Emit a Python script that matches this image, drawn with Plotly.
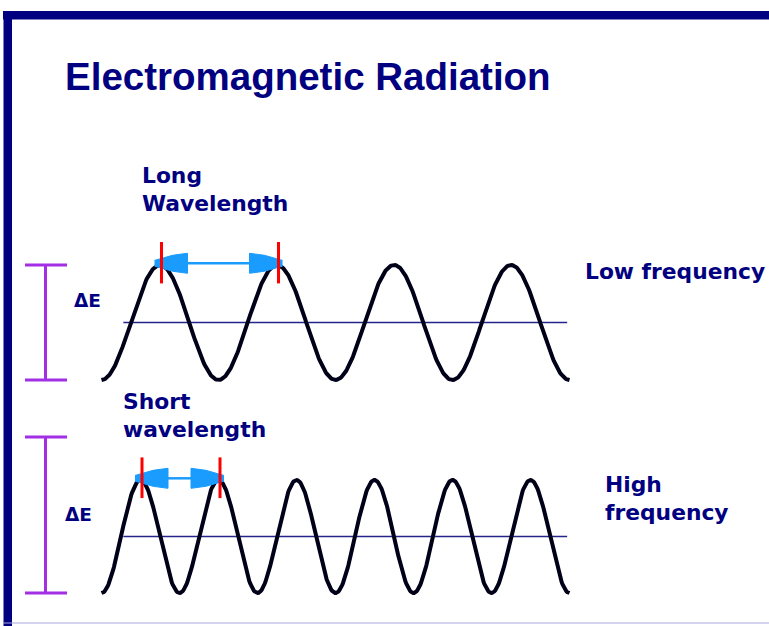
import numpy as np
import plotly.graph_objects as go

# ---------------- data ----------------
title_text = "Electromagnetic Radiation"
wave_labels = ["Long<br>Wavelength", "Short<br>wavelength"]
freq_labels = ["Low frequency", "High<br>frequency"]
delta_e_label = "ΔE"
wavelengths = [1.5, 1.0]        # relative wavelength of each wave
cycles = [4, 6]                 # number of full cycles drawn
amplitudes = [1.0, 1.0]
delta_e_top = [1.0, 1.76]       # top of the ΔE bar (wave amplitude units)
delta_e_bottom = [-1.0, -1.0]
axis_start = [0.28, 0.28]       # extent of the horizontal zero line
axis_end = [5.97, 5.97]

# ---------------- layout constants (pixels) ----------------
W, H = 769, 626
X0_PX, X_SCALE = 101.5, 78.0          # px of x=0, px per unit
PANEL_CENTER_PX = [322.5, 536.5]
PANEL_SCALE_PX = [57.5, 56.5]

NAVY = "#000080"
WAVE = "#000018"
PURPLE = "#a22ee6"
CYAN = "#1a9cff"
RED = "#ff0000"


def px2paper(x, y):
    return x / W, 1 - y / H


fig = go.Figure()
yaxes = ["y", "y2"]

for i in range(2):
    ya = yaxes[i]
    lam = wavelengths[i]
    amp = amplitudes[i]
    s = PANEL_SCALE_PX[i]
    # zero line
    fig.add_trace(go.Scatter(x=[axis_start[i], axis_end[i]], y=[0, 0], yaxis=ya,
                             mode="lines", line=dict(color="#24248a", width=1.5),
                             hoverinfo="skip", showlegend=False))
    # wave
    xs = np.linspace(0, lam * cycles[i], 600)
    ys = -amp * np.cos(2 * np.pi * xs / lam)
    fig.add_trace(go.Scatter(x=xs, y=ys, yaxis=ya, mode="lines",
                             line=dict(color=WAVE, width=4),
                             hoverinfo="skip", showlegend=False))
    # delta E bar
    bx = (45.5 - X0_PX) / X_SCALE
    c0, c1 = (25 - X0_PX) / X_SCALE, (67 - X0_PX) / X_SCALE
    top, bot = delta_e_top[i], delta_e_bottom[i]
    fig.add_trace(go.Scatter(
        x=[bx, bx, None, c0, c1, None, c0, c1],
        y=[bot, top, None, top, top, None, bot, bot], yaxis=ya, mode="lines",
        line=dict(color=PURPLE, width=3), hoverinfo="skip", showlegend=False))
    # wavelength arrow between first two crests
    p1, p2 = lam / 2, 3 * lam / 2
    ext = 5.5 / X_SCALE
    hl = 33 / X_SCALE
    hh = 10 / s
    yarr = 1.03
    t1, t2 = p1 - ext, p2 + ext
    fig.add_trace(go.Scatter(x=[t1 + hl, t2 - hl], y=[yarr, yarr], yaxis=ya,
                             mode="lines", line=dict(color=CYAN, width=2.5),
                             hoverinfo="skip", showlegend=False))
    for tip, d in [(t1, 1), (t2, -1)]:
        fig.add_trace(go.Scatter(
            x=[tip, tip + d * hl * 0.55, tip + d * hl, tip + d * hl, tip + d * hl * 0.55, tip],
            y=[yarr + 0.05, yarr + hh * 0.8, yarr + hh, yarr - hh, yarr - hh * 0.8, yarr - 0.05],
            yaxis=ya, mode="lines", fill="toself", fillcolor=CYAN,
            line=dict(color=CYAN, width=1), hoverinfo="skip", showlegend=False))
    # red crest ticks
    off = 1.5 / X_SCALE
    fig.add_trace(go.Scatter(x=[p1 + off, p1 + off, None, p2 + off, p2 + off],
                             y=[0.68, 1.40, None, 0.68, 1.40], yaxis=ya,
                             mode="lines", line=dict(color=RED, width=3),
                             hoverinfo="skip", showlegend=False))

# ---------------- text ----------------
annots = []


def label(text, xpx, ypx, size, family="DejaVu Sans", bold=True, anchor="middle"):
    xp, yp = px2paper(xpx, ypx)
    t = f"<b>{text}</b>" if bold else text
    annots.append(dict(text=t, x=xp, y=yp, xref="paper", yref="paper",
                       xanchor="left", yanchor=anchor, showarrow=False, align="left",
                       font=dict(family=family, size=size, color=NAVY)))


label(title_text, 63, 76, 38.5, family="Liberation Sans")
label(wave_labels[0], 140, 189, 21.8)
label(wave_labels[1], 121, 415, 21.8)
label(freq_labels[0], 583, 271, 21.8)
label(freq_labels[1], 603, 498, 21.8)
label(delta_e_label, 72, 300, 18.5)
label(delta_e_label, 63, 514, 18.5)

# ---------------- border ----------------
shapes = [
    dict(type="rect", xref="paper", yref="paper", x0=3 / W, x1=1.01, y0=1 - 19.5 / H, y1=1 - 11 / H,
         fillcolor=NAVY, line=dict(width=0), layer="above"),
    dict(type="rect", xref="paper", yref="paper", x0=3.5 / W, x1=12 / W, y0=-0.01, y1=1 - 11 / H,
         fillcolor=NAVY, line=dict(width=0), layer="above"),
    dict(type="line", xref="paper", yref="paper", x0=3 / W, x1=1.01, y0=1 - 623 / H, y1=1 - 623 / H,
         line=dict(color="#aaaadd", width=1.2), layer="above"),
]

fig.update_layout(
    width=W, height=H, margin=dict(l=0, r=0, t=0, b=0),
    paper_bgcolor="white", plot_bgcolor="white",
    xaxis=dict(range=[(0 - X0_PX) / X_SCALE, (W - X0_PX) / X_SCALE], visible=False, fixedrange=True),
    yaxis=dict(range=[(PANEL_CENTER_PX[0] - H) / PANEL_SCALE_PX[0], PANEL_CENTER_PX[0] / PANEL_SCALE_PX[0]],
               visible=False, fixedrange=True),
    yaxis2=dict(range=[(PANEL_CENTER_PX[1] - H) / PANEL_SCALE_PX[1], PANEL_CENTER_PX[1] / PANEL_SCALE_PX[1]],
                visible=False, overlaying="y", fixedrange=True),
    annotations=annots, shapes=shapes, showlegend=False,
)

fig.write_html("out.html", config={"displayModeBar": False},
               post_script="document.body.style.margin='0';document.body.style.overflow='hidden';")
